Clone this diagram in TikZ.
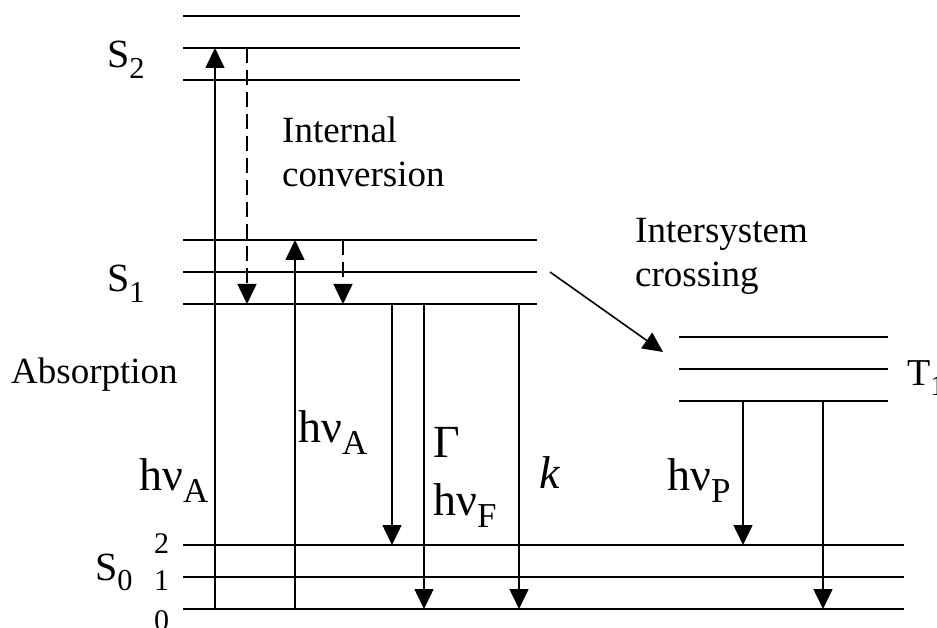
\documentclass[tikz,border=0pt]{standalone}
\usepackage{fontspec}
\usepackage{graphicx}
\setmainfont{Liberation Serif}
\usetikzlibrary{arrows.meta}
\newcommand{\idx}[1]{\raisebox{-0.27em}{\scalebox{0.76}{#1}}}

\begin{document}
\begin{tikzpicture}[x=1pt, y=-1pt,
  level/.style={line width=1.8pt},
  ar/.style={line width=1.6pt, -{Triangle[length=20pt, width=19pt]}},
  dashar/.style={ar, dash pattern=on 15pt off 7pt},
  txt/.style={font=\fontsize{37}{44}\selectfont, inner sep=0pt, anchor=base west, align=left},
  state/.style={font=\fontsize{40}{44}\selectfont, inner sep=0pt, anchor=base west},
  rate/.style={font=\fontsize{46}{50}\selectfont, inner sep=0pt, anchor=base west},
  vib/.style={font=\fontsize{30}{30}\selectfont, inner sep=0pt, anchor=base west}
]
\useasboundingbox (0,0) rectangle (937,628);

% energy levels
\foreach \y in {16,48,80} \draw[level] (183,\y) -- (520,\y);
\foreach \y in {240,272,304} \draw[level] (183,\y) -- (537,\y);
\foreach \y in {337,369,401} \draw[level] (679,\y) -- (888,\y);
\foreach \y in {545,577,609} \draw[level] (183,\y) -- (904,\y);

% arrow end points
\coordinate (absA) at (215,609);  \coordinate (absB) at (215,48);
\coordinate (icA)  at (247,48);   \coordinate (icB)  at (247,304);
\coordinate (exA)  at (295,609);  \coordinate (exB)  at (295,240);
\coordinate (vrA)  at (343,240);  \coordinate (vrB)  at (343,304);
\coordinate (flA)  at (392,304);  \coordinate (flB)  at (392,545);
\coordinate (gmA)  at (424,304);  \coordinate (gmB)  at (424,609);
\coordinate (kA)   at (519,304);  \coordinate (kB)   at (519,609);
\coordinate (iscA) at (550,272);  \coordinate (iscB) at (663,352);
\coordinate (phA)  at (743,401);  \coordinate (phB)  at (743,545);
\coordinate (nrA)  at (823,401);  \coordinate (nrB)  at (823,609);

\draw[ar] (absA) -- (absB);
\draw[dashar] (icA) -- (icB);
\draw[ar] (exA) -- (exB);
\draw[dashar] (vrA) -- (vrB);
\draw[ar] (flA) -- (flB);
\draw[ar] (gmA) -- (gmB);
\draw[ar] (kA) -- (kB);
\draw[ar] (iscA) -- (iscB);
\draw[ar] (phA) -- (phB);
\draw[ar] (nrA) -- (nrB);

% labels
\node[state] (s2) at (107,68) {S\idx{2}};
\node[state] (s1) at (107,292) {S\idx{1}};
\node[state] (s0) at (95,580) {S\idx{0}};
\node[state, font=\fontsize{38}{42}\selectfont] (t1) at (907,385) {T\idx{1}};
\node[vib] (v2) at (154,553) {2};
\node[vib] (v1) at (154,590) {1};
\node[vib] (v0) at (154,630) {0};
\node[txt] (abs) at (11,383) {Absorption};
\node[txt] (ic) at (282,187) {Internal\\conversion};
\node[txt] (isc) at (635,287) {Intersystem\\crossing};
\node[rate] (hA1) at (139,490) {hν\idx{A}};
\node[rate] (hA2) at (298,442) {hν\idx{A}};
\node[rate] (gam) at (433,457) {Γ};
\node[rate] (hF) at (433,515) {hν\idx{F}};
\node[rate] (kk) at (539,488) {\textit{k}};
\node[rate] (hP) at (667,490) {hν\idx{P}};
\end{tikzpicture}
\end{document}
